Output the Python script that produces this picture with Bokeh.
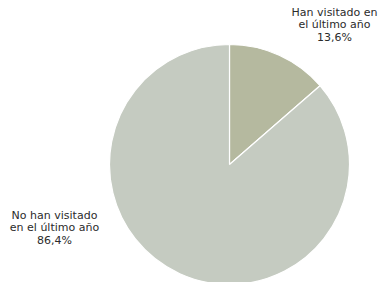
import numpy as np
from bokeh.plotting import figure
from bokeh.models import Range1d, ColumnDataSource
from bokeh.core.properties import value
from bokeh.embed import file_html
from bokeh.resources import INLINE

categories = ["Han visitado en\nel último año", "No han visitado\nen el último año"]
shares = [13.6, 86.4]
share_labels = ["13,6%", "86,4%"]
colors = ["#b5b99f", "#c5cbc1"]

W, H = 380, 282
p = figure(width=W, height=H, output_backend="svg", toolbar_location=None,
           x_range=Range1d(0, W), y_range=Range1d(0, H), min_border=0)
p.axis.visible = False
p.grid.visible = False
p.outline_line_color = None
p.background_fill_color = "white"
p.border_fill_color = "white"

frac = np.array(shares) / sum(shares)
cum = np.concatenate([[0], np.cumsum(frac)])
start = np.pi / 2 - 2 * np.pi * cum[:-1]
end = np.pi / 2 - 2 * np.pi * cum[1:]
cx, cy, r = 229, 118, 120
src = ColumnDataSource(dict(x=[cx] * 2, y=[cy] * 2, start=start, end=end, color=colors))
p.wedge(x="x", y="y", radius=r, start_angle="start", end_angle="end", direction="clock",
        fill_color="color", line_color="white", line_width=1.2, source=src)

labels = [c + "\n" + s for c, s in zip(categories, share_labels)]
p.text(x=[334, 54], y=[277, 74], text=labels, text_align="center", text_baseline="top",
       text_font=value("DejaVu Sans"), text_font_size="11px", text_color="#2b2b2b",
       text_line_height=0.97)

open("out.html", "w").write(file_html(p, INLINE))
